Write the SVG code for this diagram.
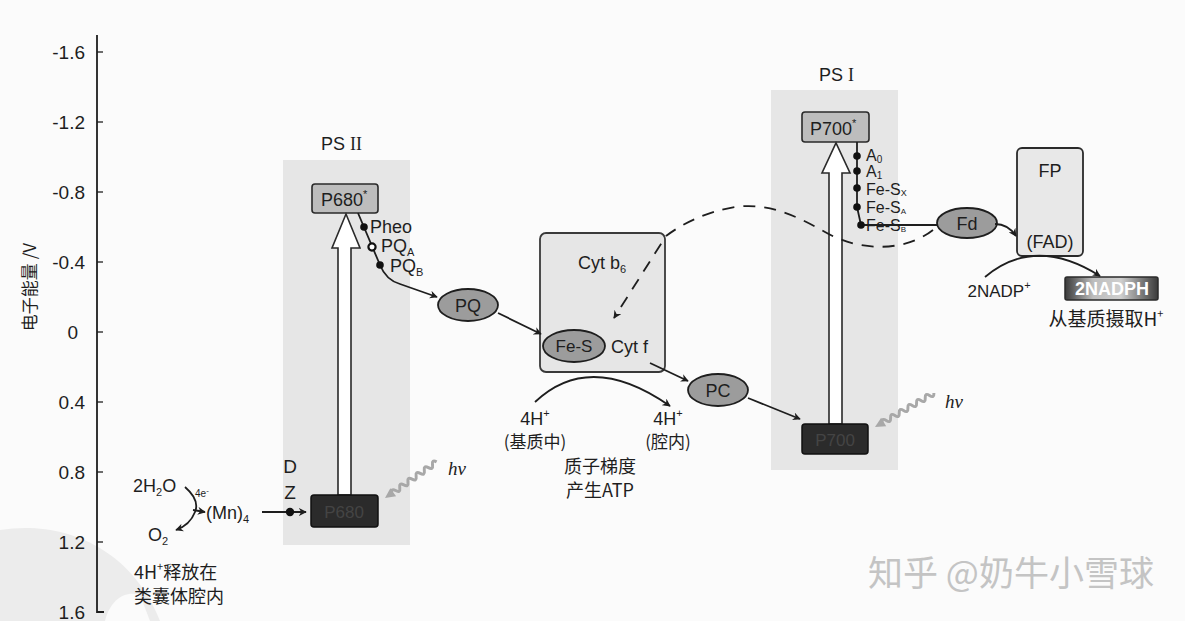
<svg xmlns="http://www.w3.org/2000/svg" width="1185" height="621" viewBox="0 0 1185 621">
<defs>
<style>
.t{font-family:"Liberation Sans",Arial,sans-serif;fill:#1e1e1e}
.cn{font-family:"Noto Sans CJK SC",sans-serif;fill:#1e1e1e}
.ln{fill:none;stroke:#1e1e1e;stroke-width:1.8}
.bg{fill:#e6e6e6}
.ell{fill:#9c9c9c;stroke:#1e1e1e;stroke-width:1.8}
.dark{fill:#2b2b2b;stroke:#111;stroke-width:1.5}
.up{fill:#fff;stroke:#2a2a2a;stroke-width:1.6}
.wave{fill:none;stroke:#a8a8a8;stroke-width:3}
.dot{fill:#111}
</style>
<marker id="ah" viewBox="0 0 10 10" refX="9" refY="5" markerWidth="8" markerHeight="8" orient="auto" markerUnits="userSpaceOnUse">
<path d="M0,0 L10,5 L0,10 L3,5 z" fill="#1e1e1e"/>
</marker>
<linearGradient id="nadph" x1="0" y1="0" x2="1" y2="0">
<stop offset="0" stop-color="#3a3a3a"/>
<stop offset="0.3" stop-color="#bdbdbd"/>
<stop offset="0.6" stop-color="#cfcfcf"/>
<stop offset="1" stop-color="#3a3a3a"/>
</linearGradient>
</defs>
<rect width="1185" height="621" fill="#fbfbfb"/>
<!-- watermark circle -->
<path d="M0,530 C60,520 130,545 160,621 L0,621 z" fill="#ececec"/>
<path d="M105,621 C110,600 125,590 140,595 L150,621 z" fill="#fbfbfb"/>

<!-- axis -->
<g id="axis">
<path d="M97,35 V612 H104" class="ln" stroke-width="1.5"/>
<g stroke="#1e1e1e" stroke-width="1.3">
<line x1="97" y1="52" x2="103" y2="52"/><line x1="97" y1="122" x2="103" y2="122"/><line x1="97" y1="192" x2="103" y2="192"/><line x1="97" y1="262" x2="103" y2="262"/><line x1="97" y1="332" x2="103" y2="332"/><line x1="97" y1="402" x2="103" y2="402"/><line x1="97" y1="472" x2="103" y2="472"/><line x1="97" y1="542" x2="103" y2="542"/>
</g>
<g class="t" font-size="19" text-anchor="end">
<text x="85" y="59">-1.6</text><text x="85" y="129">-1.2</text><text x="85" y="199">-0.8</text><text x="85" y="269">-0.4</text><text x="78" y="339">0</text><text x="85" y="409">0.4</text><text x="85" y="479">0.8</text><text x="85" y="549">1.2</text><text x="85" y="619">1.6</text>
</g>
<text class="cn" font-size="17" transform="translate(36,287) rotate(-90)" text-anchor="middle">电子能量 /V</text>
</g>

<!-- PSII -->
<g id="psii">
<rect x="283" y="160" width="127" height="385" class="bg"/>
<text x="321" y="150" class="t" font-size="18">PS <tspan font-family="Liberation Serif,serif">II</tspan></text>
<rect x="312" y="184" width="66" height="29" rx="3" fill="#bdbdbd" stroke="#2a2a2a" stroke-width="1.6"/>
<text x="321" y="206" class="t" font-size="18">P680<tspan font-size="11" dy="-8">*</tspan></text>
<path d="M338,495 V248 H332 L346,214 L360,248 H351 V495 z" class="up"/>
<rect x="311" y="495" width="67" height="32" rx="3" class="dark"/>
<text x="344" y="518" font-family="Liberation Sans,sans-serif" font-size="17" fill="#444" text-anchor="middle">P680</text>
</g>

<!-- PSII chain -->
<g id="psii-chain">
<path d="M358,213 L380,265 Q386,280 400,284 L437,297" class="ln" marker-end="url(#ah)"/>
<circle cx="364" cy="227" r="3.8" class="dot"/>
<circle cx="372" cy="247" r="3.6" fill="#fff" stroke="#111" stroke-width="2.2"/>
<circle cx="380" cy="265" r="3.8" class="dot"/>
<text x="370" y="233" class="t" font-size="18">Pheo</text>
<text x="381" y="252" class="t" font-size="18">PQ<tspan font-size="11" dy="4">A</tspan></text>
<text x="390" y="272" class="t" font-size="18">PQ<tspan font-size="11" dy="4">B</tspan></text>
</g>

<g id="pq">
<ellipse cx="468" cy="305" rx="30" ry="16" class="ell"/>
<text x="468" y="312" class="t" font-size="18" text-anchor="middle">PQ</text>
</g>

<!-- Cyt b6f -->
<g id="cytb6f">
<rect x="540" y="233" width="125" height="139" rx="6" fill="#e6e6e6" stroke="#3a3a3a" stroke-width="1.8"/>
<text x="578" y="269" class="t" font-size="18">Cyt b<tspan font-size="11" dy="4">6</tspan></text>
<ellipse cx="574" cy="346" rx="31" ry="16" class="ell"/>
<text x="574" y="352" class="t" font-size="17" text-anchor="middle">Fe-S</text>
<text x="611" y="353" class="t" font-size="18">Cyt f</text>
</g>

<g id="pc">
<ellipse cx="718" cy="390" rx="30" ry="16" class="ell"/>
<text x="718" y="397" class="t" font-size="18" text-anchor="middle">PC</text>
</g>

<g id="proton-labels">
<text x="535" y="425" class="t" font-size="18" text-anchor="middle">4H<tspan font-size="11" dy="-8">+</tspan></text>
<text x="535" y="448" class="cn" font-size="17" text-anchor="middle">(基质中)</text>
<text x="668" y="425" class="t" font-size="18" text-anchor="middle">4H<tspan font-size="11" dy="-8">+</tspan></text>
<text x="668" y="448" class="cn" font-size="17" text-anchor="middle">(腔内)</text>
<text x="600" y="473" class="cn" font-size="18" text-anchor="middle">质子梯度</text>
<text x="600" y="497" class="cn" font-size="18" text-anchor="middle">产生ATP</text>
</g>

<!-- PSI -->
<g id="psi">
<rect x="771" y="90" width="127" height="380" class="bg"/>
<text x="819" y="81" class="t" font-size="18">PS <tspan font-family="Liberation Serif,serif">I</tspan></text>
<rect x="802" y="112" width="67" height="30" rx="3" fill="#bdbdbd" stroke="#2a2a2a" stroke-width="1.6"/>
<text x="810" y="135" class="t" font-size="18">P700<tspan font-size="11" dy="-8">*</tspan></text>
<path d="M829,424 V173 H822 L836,143 L850,173 H842 V424 z" class="up"/>
<rect x="802" y="424" width="66" height="30" rx="3" class="dark"/>
<text x="835" y="446" font-family="Liberation Sans,sans-serif" font-size="17" fill="#444" text-anchor="middle">P700</text>
</g>

<g id="psi-chain">
<path d="M857,142 V207 L861,225 H890" class="ln"/>
<circle cx="857" cy="156" r="3.8" class="dot"/>
<circle cx="857" cy="171" r="3.8" class="dot"/>
<circle cx="857" cy="188" r="3.8" class="dot"/>
<circle cx="857" cy="207" r="3.8" class="dot"/>
<circle cx="861" cy="225" r="3.8" class="dot"/>
<g class="t" font-size="16">
<text x="866" y="161">A<tspan font-size="10" dy="2">0</tspan></text>
<text x="866" y="177">A<tspan font-size="10" dy="2">1</tspan></text>
<text x="866" y="195">Fe-S<tspan font-size="9" dy="1">X</tspan></text>
<text x="866" y="213">Fe-S<tspan font-size="8" dy="1">A</tspan></text>
<text x="866" y="231">Fe-S<tspan font-size="8" dy="1">B</tspan></text>
</g>
</g>

<g id="fd">
<ellipse cx="967" cy="223" rx="30" ry="15" class="ell"/>
<text x="967" y="230" class="t" font-size="18" text-anchor="middle">Fd</text>
</g>

<g id="fp">
<rect x="1017" y="148" width="66" height="108" rx="5" fill="#e8e8e8" stroke="#2a2a2a" stroke-width="1.8"/>
<text x="1050" y="177" class="t" font-size="18" text-anchor="middle">FP</text>
<text x="1050" y="248" class="t" font-size="18" text-anchor="middle">(FAD)</text>
</g>

<g id="nadph">
<rect x="1065" y="277" width="93" height="23" rx="2" fill="url(#nadph)" stroke="#2a2a2a" stroke-width="1.5"/>
<text x="1112" y="295" font-family="Liberation Sans,sans-serif" font-weight="bold" font-size="18" fill="#fff" text-anchor="middle">2NADPH</text>
<text x="999" y="297" class="t" font-size="17" text-anchor="middle">2NADP<tspan font-size="11" dy="-8">+</tspan></text>
<text x="1106" y="326" class="cn" font-size="19" text-anchor="middle">从基质摄取H<tspan font-size="11" dy="-8">+</tspan></text>
</g>

<!-- water splitting -->
<g id="water">
<text x="133" y="492" class="t" font-size="18">2H<tspan font-size="11" dy="4">2</tspan><tspan dy="-4">O</tspan></text>
<text x="195" y="497" class="t" font-size="10">4e<tspan font-size="8" dy="-4">-</tspan></text>
<text x="206" y="519" class="t" font-size="18">(Mn)<tspan font-size="11" dy="4">4</tspan></text>
<text x="148" y="541" class="t" font-size="18">O<tspan font-size="11" dy="4">2</tspan></text>
<text x="290" y="473" class="t" font-size="19" text-anchor="middle">D</text>
<text x="290" y="499" class="t" font-size="19" text-anchor="middle">Z</text>
<text x="134" y="579" class="cn" font-size="18">4H<tspan font-size="11" dy="-8">+</tspan><tspan dy="8">释放在</tspan></text>
<text x="134" y="603" class="cn" font-size="18">类囊体腔内</text>
</g>

<!-- hv -->
<g id="hv1">
<g transform="translate(385,498) rotate(-35)">
<path d="M8 0 q2.5 -5 5 0 t5 0 t5 0 t5 0 t5 0 t5 0 t5 0 t5 0 t5 0 t5 0 t5 0" class="wave"/>
<polygon points="0,0 10,-5 10,5" fill="#a8a8a8"/>
</g>
<text x="448" y="475" font-family="Liberation Serif,serif" font-style="italic" font-size="19" fill="#1e1e1e">hv</text>
</g>
<g id="hv2">
<g transform="translate(875,427) rotate(-30)">
<path d="M8 0 q2.5 -5 5 0 t5 0 t5 0 t5 0 t5 0 t5 0 t5 0 t5 0 t5 0 t5 0 t5 0 t5 0" class="wave"/>
<polygon points="0,0 10,-5 10,5" fill="#a8a8a8"/>
</g>
<text x="945" y="408" font-family="Liberation Serif,serif" font-style="italic" font-size="19" fill="#1e1e1e">hv</text>
</g>

<!-- connectors -->
<g id="connectors">
<path d="M498,313 L541,334" class="ln" marker-end="url(#ah)"/>
<path d="M650,363 L688,381" class="ln" marker-end="url(#ah)"/>
<path d="M748,398 L800,419" class="ln" marker-end="url(#ah)"/>
<path d="M535,402 Q590,350 670,406" class="ln" marker-end="url(#ah)"/>
<path d="M890,225 H937" class="ln"/>
<path d="M995,224 Q1008,224 1016,236" class="ln" marker-end="url(#ah)"/>
<path d="M985,277 Q1035,235 1100,276" class="ln" marker-end="url(#ah)"/>
<path d="M933,230 C905,252 860,252 825,232 C790,212 765,203 735,207 C705,212 682,224 666,236 L614,318" fill="none" stroke="#1e1e1e" stroke-width="1.8" stroke-dasharray="12,9" marker-end="url(#ah)"/>
<path d="M262,512 H306" class="ln" marker-end="url(#ah)"/>
<circle cx="290" cy="512" r="4.2" class="dot"/>
<path d="M185,487 Q200,500 195,512 Q190,525 176,530" class="ln" marker-end="url(#ah)"/>
<path d="M193,510 L205,512" class="ln" marker-end="url(#ah)"/>
</g>

<text x="868" y="586" font-family="Noto Sans CJK SC,sans-serif" font-size="35" fill="#c4c4c4">知乎 @奶牛小雪球</text>
</svg>
